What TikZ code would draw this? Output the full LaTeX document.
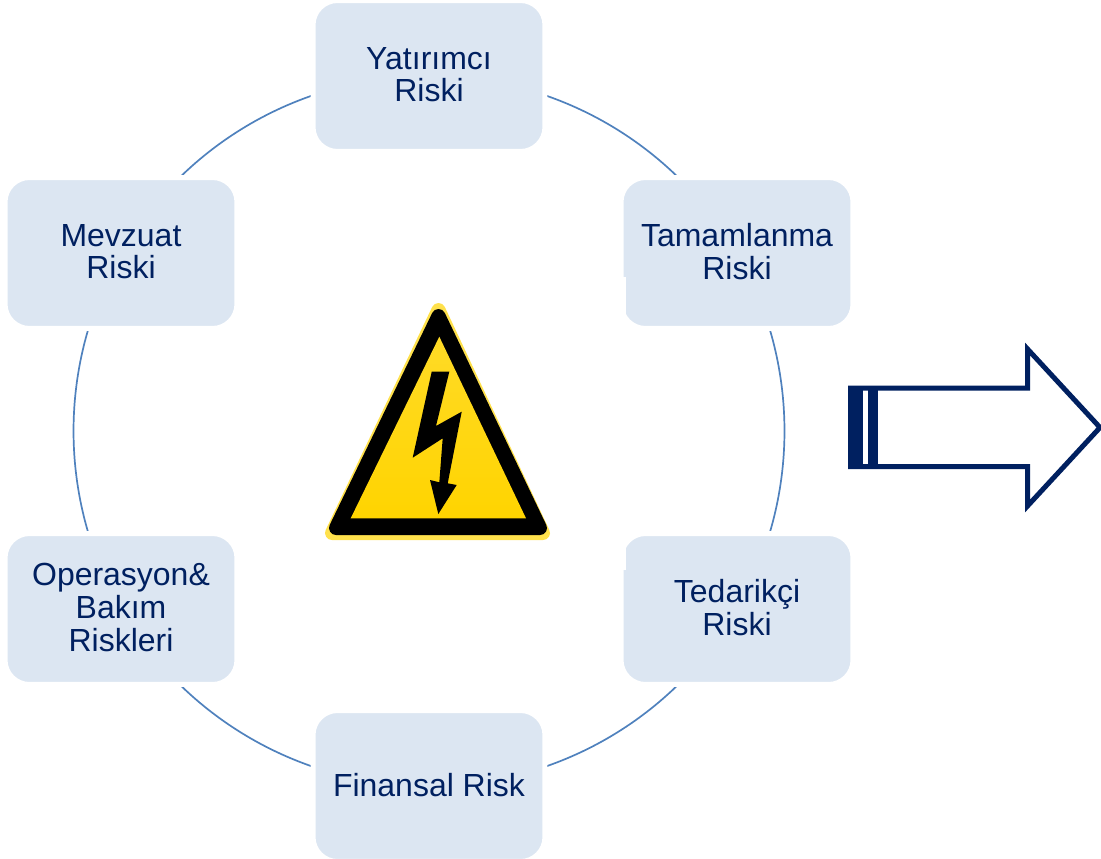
\documentclass[tikz,border=0pt]{standalone}
\usepackage{fontspec}
\setmainfont{Liberation Sans}
\usetikzlibrary{backgrounds}
\definecolor{riskblue}{HTML}{DCE6F2}
\definecolor{risknavy}{HTML}{002060}
\definecolor{ringblue}{HTML}{4F81BD}
\definecolor{signyellow}{HTML}{FFD400}
\tikzset{
	riskbox/.style={rectangle, rounded corners=0.49cm, fill=riskblue, draw=white, line width=0.1cm, minimum width=4.64cm, minimum height=3.02cm, inner sep=0pt, align=center, text=risknavy, text depth=0.06cm, font=\fontsize{18.2}{18.7}\selectfont},
	ringline/.style={draw=ringblue, line width=0.034cm, looseness=0.912},
	arrowline/.style={draw=risknavy, line width=0.1cm, miter limit=10}
}

\begin{document}
\begin{tikzpicture}[x=0.02cm, y=-0.02cm]
		%%%%% FRAME %%%%%
		\useasboundingbox (0, 0) rectangle (1101, 858);
		
		%%%%% BOXES %%%%%
		\node[riskbox] (yatirimci) at (429, 76) {Yatırımcı\\Riski};
		\node[riskbox] (tamamlanma) at (737, 253) {Tamamlanma\\Riski};
		\node[riskbox] (tedarikci) at (737, 609) {Tedarikçi\\Riski};
		\node[riskbox] (finansal) at (429, 786) {Finansal Risk};
		\node[riskbox] (operasyon) at (121, 609) {Operasyon\&\\Bakım\\Riskleri};
		\node[riskbox] (mevzuat) at (121, 253) {Mevzuat\\Riski};
		
		%%%%% RING %%%%%
		\begin{scope}[on background layer]
			\draw[ringline] (yatirimci.center) to[bend left=30] (tamamlanma.center);
			\draw[ringline] (tamamlanma.center) to[bend left=30] (tedarikci.center);
			\draw[ringline] (tedarikci.center) to[bend left=30] (finansal.center);
			\draw[ringline] (finansal.center) to[bend left=30] (operasyon.center);
			\draw[ringline] (operasyon.center) to[bend left=30] (mevzuat.center);
			\draw[ringline] (mevzuat.center) to[bend left=30] (yatirimci.center);
		\end{scope}
		
		%%%%% BOX NOTCHES %%%%%
		\fill[white] (621, 277) rectangle (626, 328);
		\fill[white] (621, 534) rectangle (626, 570);
		
		%%%%% SIGN %%%%%
		\draw[fill=signyellow!70!white, draw=signyellow!70!white, line width=0.28cm, line join=round] (438.5, 310) -- (332, 533) -- (543, 533) -- cycle;
		\draw[fill=black, draw=black, line width=0.28cm, line join=round] (438.5, 316) -- (336, 528) -- (540, 528) -- cycle;
		\shade[top color=signyellow!85!white, bottom color=signyellow] (439.3, 336.7) -- (350.7, 518.3) -- (526, 518.3) -- cycle;
		\fill[black] (431.7, 371.7) -- (449.3, 371.7) -- (436, 426) -- (461.7, 411.7) -- (447.7, 483.3) -- (456.7, 485) -- (438.3, 514) -- (430, 480) -- (439.3, 482.3) -- (442.7, 438.3) -- (412.7, 457.7) -- cycle;
		
		%%%%% ARROW %%%%%
		\draw[arrowline] (850.5, 388) -- (1027.5, 388) -- (1027.5, 349) -- (1100, 427.5) -- (1027.5, 506) -- (1027.5, 466.5) -- (850.5, 466.5) -- cycle;
		\fill[risknavy] (848, 385.5) rectangle (863, 469);
		\fill[risknavy] (868, 385.5) rectangle (878, 469);
		
\end{tikzpicture}
\end{document}
